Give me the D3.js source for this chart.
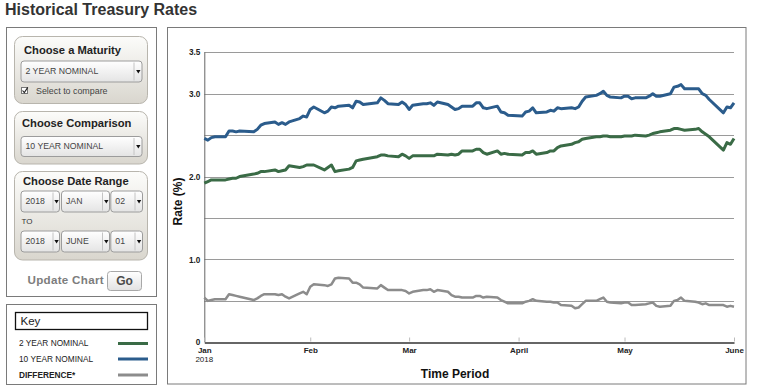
<!DOCTYPE html>
<html>
<head>
<meta charset="utf-8">
<script src="https://cdn.jsdelivr.net/npm/d3@7/dist/d3.min.js"></script>
<style>
  html, body { margin: 0; padding: 0; background: #ffffff; }
  svg { display: block; font-family: "Liberation Sans", Arial, Helvetica, sans-serif; }
</style>
</head>
<body>
<svg id="chart" width="759" height="390"></svg>
<script>
// ---------------- DATA ----------------
const dates = [
  "01-02","01-03","01-04","01-05","01-08","01-09","01-10","01-11","01-12","01-16","01-17","01-18","01-19","01-22","01-23","01-24","01-25","01-26","01-29","01-30","01-31",
  "02-01","02-02","02-05","02-06","02-07","02-08","02-09","02-12","02-13","02-14","02-15","02-16","02-20","02-21","02-22","02-23","02-26","02-27","02-28",
  "03-01","03-02","03-05","03-06","03-07","03-08","03-09","03-12","03-13","03-14","03-15","03-16","03-19","03-20","03-21","03-22","03-23","03-26","03-27","03-28","03-29",
  "04-02","04-03","04-04","04-05","04-06","04-09","04-10","04-11","04-12","04-13","04-16","04-17","04-18","04-19","04-20","04-23","04-24","04-25","04-26","04-27","04-30",
  "05-01","05-02","05-03","05-04","05-07","05-08","05-09","05-10","05-11","05-14","05-15","05-16","05-17","05-18","05-21","05-22","05-23","05-24","05-25","05-29","05-30","05-31",
  "06-01"
];
const tenYear = [
  2.46,2.44,2.47,2.48,2.48,2.55,2.55,2.54,2.55,2.54,2.57,2.62,2.64,2.66,2.63,2.65,2.63,2.66,2.70,2.73,2.72,
  2.81,2.84,2.77,2.79,2.84,2.83,2.85,2.86,2.83,2.91,2.90,2.87,2.89,2.95,2.92,2.88,2.87,2.90,2.87,
  2.81,2.86,2.88,2.88,2.89,2.86,2.90,2.87,2.84,2.81,2.82,2.85,2.85,2.89,2.89,2.83,2.82,2.85,2.78,2.77,2.74,
  2.73,2.78,2.79,2.83,2.77,2.78,2.80,2.79,2.83,2.82,2.83,2.82,2.84,2.91,2.96,2.98,3.00,3.03,2.98,2.96,2.95,
  2.97,2.97,2.94,2.95,2.95,2.97,3.00,2.97,2.97,3.00,3.08,3.09,3.11,3.06,3.06,3.06,3.00,2.98,2.93,2.77,2.84,2.83,
  2.89
];
const twoYear = [
  1.92,1.94,1.96,1.96,1.96,1.97,1.98,1.98,2.00,2.03,2.04,2.06,2.06,2.08,2.06,2.07,2.08,2.13,2.11,2.12,2.14,
  2.14,2.14,2.08,2.11,2.14,2.06,2.07,2.09,2.11,2.19,2.20,2.21,2.24,2.26,2.26,2.25,2.24,2.27,2.25,
  2.22,2.25,2.25,2.25,2.25,2.25,2.27,2.26,2.27,2.26,2.27,2.31,2.31,2.33,2.33,2.29,2.27,2.31,2.27,2.28,2.27,
  2.26,2.29,2.29,2.31,2.27,2.29,2.31,2.31,2.35,2.37,2.39,2.41,2.42,2.45,2.46,2.48,2.48,2.49,2.49,2.48,2.48,
  2.49,2.49,2.49,2.50,2.49,2.50,2.52,2.53,2.54,2.56,2.58,2.58,2.57,2.56,2.57,2.58,2.54,2.51,2.48,2.32,2.41,2.39,
  2.46
];
const yTickLabels = [0, 1, 2, 3, 3.5];
const yGrid = [0.5, 1, 1.5, 2, 2.5, 3, 3.5];
const monthTicks = ["2018-01-02","2018-02-01","2018-03-01","2018-04-01","2018-05-01","2018-06-01"];
const monthLabels = ["Jan","Feb","Mar","April","May","June"];
const seriesNames = ["2 YEAR NOMINAL","10 YEAR NOMINAL","DIFFERENCE*"];
const seriesColors = ["#3a6b46","#2b5c8c","#8c8c8c"];

// ---------------- SETUP ----------------
const parse = d3.timeParse("%Y-%m-%d");
const svg = d3.select("#chart");
const defs = svg.append("defs");

function vGrad(id, c0, c1) {
  const g = defs.append("linearGradient").attr("id", id).attr("x1",0).attr("y1",0).attr("x2",0).attr("y2",1);
  g.append("stop").attr("offset","0%").attr("stop-color",c0);
  g.append("stop").attr("offset","100%").attr("stop-color",c1);
}
vGrad("panelGrad", "#fcfcfa", "#d9d6ce");
vGrad("selGrad", "#ffffff", "#e4e4e4");
vGrad("btnGrad", "#ffffff", "#e2e2e2");

// Title
svg.append("text").attr("x", 5).attr("y", 14.5)
  .attr("font-size", 16).attr("font-weight", "bold").attr("fill", "#333")
  .text("Historical Treasury Rates");

// ---------------- LEFT CONTROL PANEL ----------------
svg.append("rect").attr("x", 6.5).attr("y", 27.5).attr("width", 150).attr("height", 269)
  .attr("fill", "#fff").attr("stroke", "#7a7a7a").attr("stroke-width", 1);

function box(x, y, w, h) {
  svg.append("rect").attr("x", x).attr("y", y).attr("width", w).attr("height", h)
    .attr("rx", 8).attr("ry", 8)
    .attr("fill", "url(#panelGrad)").attr("stroke", "#b8b5ad").attr("stroke-width", 1);
}
function heading(x, y, t) {
  svg.append("text").attr("x", x).attr("y", y).attr("font-size", 11.2)
    .attr("font-weight", "bold").attr("fill", "#222").text(t);
}
function selectBox(x, y, w, h, t, aw) {
  const g = svg.append("g");
  g.append("rect").attr("x", x + 0.5).attr("y", y + 0.5).attr("width", w).attr("height", h)
    .attr("rx", 3).attr("fill", "url(#selGrad)").attr("stroke", "#9c9c9c");
  g.append("line").attr("x1", x + w - aw + 0.5).attr("x2", x + w - aw + 0.5)
    .attr("y1", y + 2).attr("y2", y + h - 1).attr("stroke", "#c4c4c4");
  const cx = x + w - aw / 2 + 0.8, cy = y + h / 2 + 0.5;
  g.append("path").attr("d", `M${cx - 2.2},${cy - 1.5}L${cx + 2.2},${cy - 1.5}L${cx},${cy + 2}Z`).attr("fill", "#111");
  g.append("text").attr("x", x + 5).attr("y", y + h / 2 + 3.3).attr("font-size", 8.7)
    .attr("fill", "#444").text(t);
}

box(14.5, 36.5, 133, 67);
heading(24, 54, "Choose a Maturity");
selectBox(20.5, 60.5, 121, 21, "2 YEAR NOMINAL", 8);
// checkbox
svg.append("rect").attr("x", 21.5).attr("y", 87.5).attr("width", 6).attr("height", 6)
  .attr("fill", "#fff").attr("stroke", "#777");
svg.append("path").attr("d", "M22.5,90.5L24.3,92.6L27.8,87.4").attr("fill", "none")
  .attr("stroke", "#222").attr("stroke-width", 1.1);
svg.append("text").attr("x", 36).attr("y", 94.3).attr("font-size", 8.9).attr("fill", "#444")
  .text("Select to compare");

box(14.5, 111.5, 133, 52.5);
heading(22, 127, "Choose Comparison");
selectBox(20.5, 136, 121, 20, "10 YEAR NOMINAL", 8);

box(14.5, 171.5, 133, 88.5);
heading(23, 185, "Choose Date Range");
selectBox(20.5, 190.5, 38.5, 21, "2018", 6.5);
selectBox(61, 190.5, 48, 21, "JAN", 7);
selectBox(110.3, 190.5, 31.7, 21, "02", 7.5);
svg.append("text").attr("x", 21.5).attr("y", 224.3).attr("font-size", 8).attr("fill", "#333").text("TO");
selectBox(20.5, 230.5, 38.5, 21, "2018", 6.5);
selectBox(61, 230.5, 48, 21, "JUNE", 7);
selectBox(110.3, 230.5, 31.7, 21, "01", 7.5);

svg.append("text").attr("x", 27.5).attr("y", 284.3).attr("font-size", 11.6)
  .attr("font-weight", "bold").attr("fill", "#7d7d7d").attr("letter-spacing", 0.3).text("Update Chart");
svg.append("rect").attr("x", 107.5).attr("y", 271.5).attr("width", 34).attr("height", 19)
  .attr("rx", 3).attr("fill", "url(#btnGrad)").attr("stroke", "#a8a8a8");
svg.append("text").attr("x", 124.5).attr("y", 285).attr("text-anchor", "middle")
  .attr("font-size", 12).attr("font-weight", "bold").attr("fill", "#4a4a4a").text("Go");

// ---------------- KEY PANEL ----------------
svg.append("rect").attr("x", 6.5).attr("y", 304.5).attr("width", 150).attr("height", 80)
  .attr("fill", "#fff").attr("stroke", "#7a7a7a");
svg.append("rect").attr("x", 15.5).attr("y", 312.5).attr("width", 132).attr("height", 17)
  .attr("fill", "#fff").attr("stroke", "#111").attr("stroke-width", 1.3);
svg.append("text").attr("x", 20.5).attr("y", 325).attr("font-size", 11.5).attr("fill", "#222").text("Key");

const legendY = [343.5, 359, 375];
seriesNames.forEach((n, i) => {
  svg.append("text").attr("x", 19).attr("y", legendY[i] + 2.5).attr("font-size", 8.3)
    .attr("font-weight", i === 2 ? "bold" : "normal").attr("fill", "#222").text(n);
  svg.append("line").attr("x1", 118).attr("x2", 148).attr("y1", legendY[i]).attr("y2", legendY[i])
    .attr("stroke", seriesColors[i]).attr("stroke-width", 3);
});

// ---------------- CHART PANEL ----------------
svg.append("rect").attr("x", 167.5).attr("y", 27.5).attr("width", 578.5).attr("height", 356.5)
  .attr("fill", "#fff").attr("stroke", "#7a7a7a");

const x = d3.scaleTime().domain([parse("2018-01-02"), parse("2018-06-01")]).range([204.3, 734]);
const y = d3.scaleLinear().domain([0, 3.5]).range([342.3, 52.3]);

// gridlines
svg.append("g").selectAll("line").data(yGrid).join("line")
  .attr("x1", x.range()[0]).attr("x2", x.range()[1])
  .attr("y1", d => Math.round(y(d)) + 0.5).attr("y2", d => Math.round(y(d)) + 0.5)
  .attr("stroke", "#9a9a9a").attr("stroke-width", 1);

// y axis
const yAxis = svg.append("g").attr("transform", `translate(${x.range()[0]},0)`)
  .call(d3.axisLeft(y).tickValues(yTickLabels).tickSize(0).tickPadding(4)
    .tickFormat(d => d === 0 ? "0" : d3.format(".1f")(d)));
yAxis.select(".domain").attr("stroke", "#666").attr("d", `M0.5,${y(3.5)}V${y(0)}`);
yAxis.selectAll("text").attr("font-size", 8.2).attr("font-weight", "bold").attr("fill", "#222")
  .attr("font-family", "Liberation Sans, Arial, sans-serif");

// x axis
const xAxis = svg.append("g").attr("transform", `translate(0,${Math.round(y(0)) + 0.5})`)
  .call(d3.axisBottom(x).tickValues(monthTicks.map(parse)).tickSizeInner(-4).tickSizeOuter(0).tickPadding(5)
    .tickFormat((d, i) => monthLabels[i]));
xAxis.select(".domain").attr("stroke", "#333").attr("stroke-width", 1.4);
xAxis.selectAll(".tick line").attr("stroke", "#bbb").attr("transform", "translate(0,-1)");
xAxis.selectAll("text").attr("font-size", 8).attr("font-weight", "bold").attr("fill", "#222")
  .attr("font-family", "Liberation Sans, Arial, sans-serif");
svg.append("text").attr("x", x(parse(monthTicks[0]))).attr("y", 361.5).attr("text-anchor", "middle")
  .attr("font-size", 8).attr("fill", "#222").text("2018");

// axis titles
svg.append("text").attr("transform", "translate(181.5,201.5) rotate(-90)").attr("text-anchor", "middle")
  .attr("font-size", 12).attr("font-weight", "bold").attr("fill", "#111").text("Rate (%)");
svg.append("text").attr("x", 455).attr("y", 377.7).attr("text-anchor", "middle")
  .attr("font-size", 12).attr("font-weight", "bold").attr("fill", "#111").text("Time Period");

// ---------------- LINES ----------------
const rows = dates.map((d, i) => ({
  date: parse("2018-" + d), two: twoYear[i], ten: tenYear[i], diff: tenYear[i] - twoYear[i]
}));
const lineFor = key => d3.line().x(d => x(d.date)).y(d => y(d[key]));

svg.append("path").datum(rows).attr("d", lineFor("diff")).attr("fill", "none")
  .attr("stroke", seriesColors[2]).attr("stroke-width", 2.5).attr("stroke-linejoin", "round");
svg.append("path").datum(rows).attr("d", lineFor("two")).attr("fill", "none")
  .attr("stroke", seriesColors[0]).attr("stroke-width", 3).attr("stroke-linejoin", "round");
svg.append("path").datum(rows).attr("d", lineFor("ten")).attr("fill", "none")
  .attr("stroke", seriesColors[1]).attr("stroke-width", 3).attr("stroke-linejoin", "round");
</script>
</body>
</html>
